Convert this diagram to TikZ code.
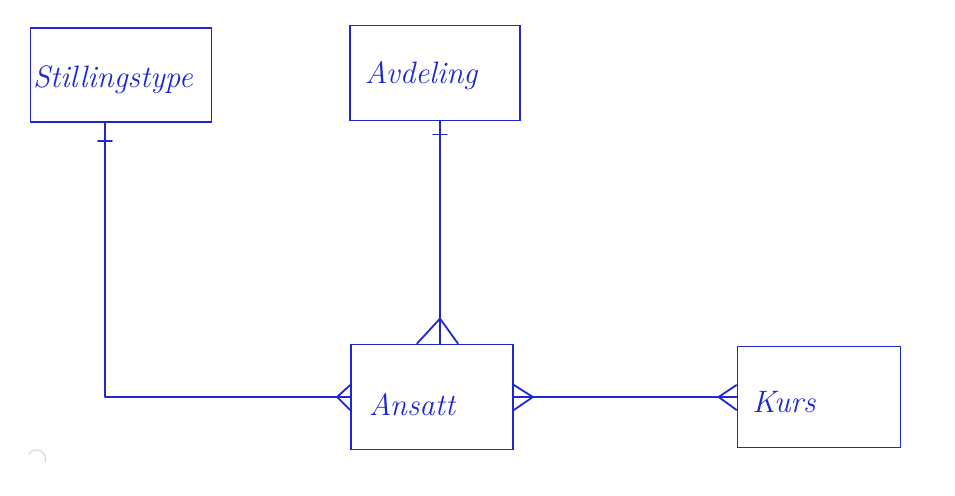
\documentclass[tikz,border=0pt]{standalone}
\usetikzlibrary{calc}
\definecolor{ink}{RGB}{30,40,210}
\begin{document}
\begin{tikzpicture}[x=1pt,y=-1pt,
  entity/.style={draw=ink, line width=1.8pt, inner sep=0pt},
  lbl/.style={text=ink, inner sep=0pt, font=\itshape\fontsize{31}{35}\selectfont},
  link/.style={draw=ink, line width=1.8pt, line cap=round, line join=round}]
\useasboundingbox (0,0) rectangle (955,495);
% entities
\node[entity, minimum width=181pt, minimum height=94pt] (still) at (121,75) {};
\node[entity, minimum width=170pt, minimum height=95pt] (avd) at (435,73) {};
\node[entity, minimum width=162pt, minimum height=105pt] (ans) at (432,397) {};
\node[entity, minimum width=163pt, minimum height=101pt] (kurs) at (819,397) {};
% labels
\node[lbl] (tstill) at (113,80) {Stillingstype};
\node[lbl] (tavd) at (421,76) {Avdeling};
\node[lbl] (tans) at (412,405) {Ansatt};
\node[lbl] (tkurs) at (784,402) {Kurs};
% Stillingstype -- Ansatt
\coordinate (sx) at (105,0);
\draw[link] (still.south -| sx) |- (ans.west);
\draw[link] ($(still.south -| sx)+(-7,18)$) -- ++(14,0);
\draw[link] (ans.west) -- ++(-13,0) coordinate (a1);
\draw[link] ($(ans.west)+(0,-12)$) -- (a1) -- ($(ans.west)+(0,13)$);
% Avdeling -- Ansatt
\coordinate (ax) at (440,0);
\draw[link] (avd.south -| ax) -- (ans.north -| ax);
\draw[link] ($(avd.south -| ax)+(-7,13)$) -- ++(14,0);
\draw[link] ($(ans.north -| ax)+(-23,0)$) -- ($(ans.north -| ax)+(0,-25)$) coordinate (a2) -- ($(ans.north -| ax)+(18,0)$);
% Ansatt -- Kurs
\draw[link] (ans.east) -- (kurs.west);
\draw[link] ($(ans.east)+(0,-12)$) -- ($(ans.east)+(19,0)$) coordinate (a3) -- ($(ans.east)+(0,13)$);
\draw[link] ($(kurs.west)+(0,-12)$) -- ($(kurs.west)+(-18,0)$) coordinate (a4) -- ($(kurs.west)+(0,13)$);
% faint scan mark
\draw[black!15, line width=1.2pt] (45,462) arc[start angle=-20, end angle=150, radius=9pt];
\end{tikzpicture}
\end{document}
